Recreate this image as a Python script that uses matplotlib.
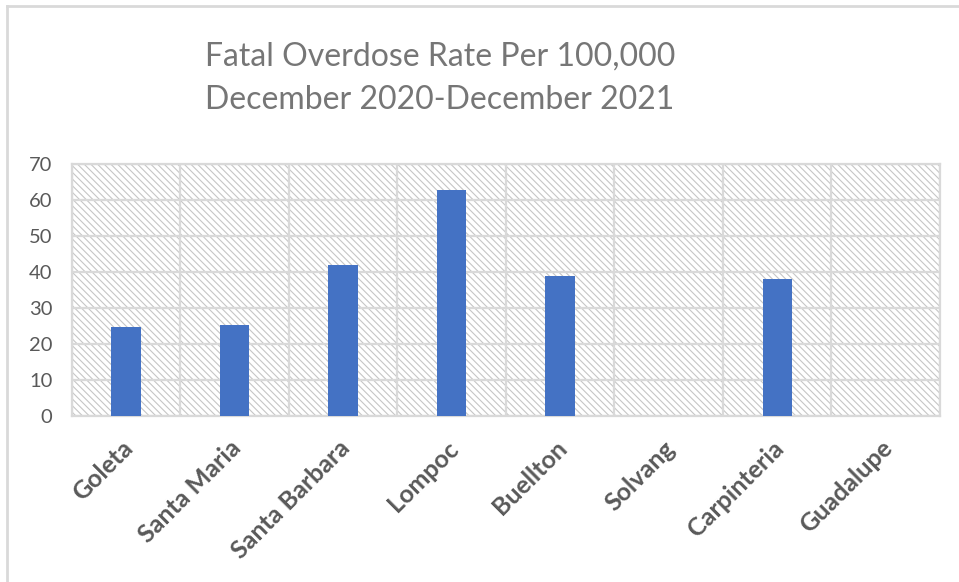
import matplotlib
matplotlib.use("Agg")
import matplotlib.pyplot as plt
from matplotlib.lines import Line2D
from matplotlib.transforms import ScaledTranslation
import numpy as np

# Fatal overdose rate per 100,000 residents, Dec 2020 - Dec 2021
cities = ["Goleta", "Santa Maria", "Santa Barbara", "Lompoc",
          "Buellton", "Solvang", "Carpinteria", "Guadalupe"]
rates = [24.6, 25.3, 41.8, 62.8, 38.8, 0, 37.9, 0]
y_ticks = [0, 10, 20, 30, 40, 50, 60, 70]
title_lines = ["Fatal Overdose Rate Per 100,000", "December 2020-December 2021"]

plt.rcParams["font.family"] = ["Lato", "DejaVu Sans"]
plt.rcParams["hatch.color"] = "#c6c6c6"
plt.rcParams["hatch.linewidth"] = 0.8

W, H = 959, 582
fig = plt.figure(figsize=(W / 100, H / 100), dpi=100)
fig.patch.set_facecolor("white")

ax = fig.add_axes([71.7 / W, 1 - 415.7 / H, (940 - 71.7) / W, (415.7 - 164) / H])
ax.set_facecolor("white")

# diagonal hatched plot background
ax.patch.set_hatch("\\\\\\\\\\")
ax.patch.set_edgecolor("#c6c6c6")
ax.patch.set_linewidth(0)

x = np.arange(len(cities))
ax.bar(x, rates, width=0.27, color="#4472c4", zorder=3)

ax.set_xlim(-0.5, len(cities) - 0.5)
ax.set_ylim(0, 70)
ax.set_yticks(y_ticks)
ax.set_yticklabels([str(v) for v in y_ticks])

# grid: horizontal at ticks, vertical at category boundaries
ax.set_xticks(x)
ax.set_xticks(np.arange(len(cities) + 1) - 0.5, minor=True)
ax.grid(axis="y", which="major", color="#d9d9d9", linewidth=1.6, zorder=1)
ax.grid(axis="x", which="minor", color="#d9d9d9", linewidth=1.6, zorder=1)
ax.set_axisbelow(True)

for s in ax.spines.values():
    s.set_color("#d9d9d9")
    s.set_linewidth(1.6)

ax.tick_params(axis="both", which="both", length=0)
ax.tick_params(axis="y", pad=14, labelsize=14.5, labelcolor="#595959")
ax.set_xticklabels(cities, rotation=45, ha="right", va="top",
                   rotation_mode="anchor", fontsize=18,
                   fontweight="bold", color="#595959")
ax.tick_params(axis="x", pad=15)
offset = ScaledTranslation(-5 / 100, 0, fig.dpi_scale_trans)
for lbl in ax.get_xticklabels():
    lbl.set_transform(lbl.get_transform() + offset)

# two-line title
fig.text(440 / W, 1 - 57 / H, title_lines[0], ha="center", va="center",
         fontsize=23, color="#767676")
fig.text(440 / W, 1 - 100 / H, title_lines[1], ha="center", va="center",
         fontsize=23, color="#767676")

# outer frame (top and left edges)
fig.add_artist(Line2D([7 / W, 1], [1 - 6 / H, 1 - 6 / H], transform=fig.transFigure,
                      color="#d9d9d9", linewidth=2))
fig.add_artist(Line2D([7 / W, 7 / W], [0, 1 - 6 / H], transform=fig.transFigure,
                      color="#d9d9d9", linewidth=2))

fig.savefig("out.png", dpi=100)
